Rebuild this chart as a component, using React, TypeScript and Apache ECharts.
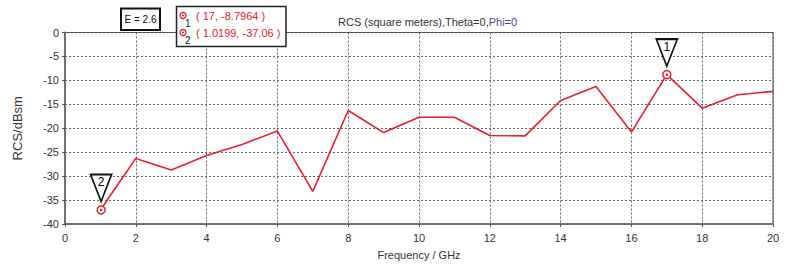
import React, { useEffect, useRef } from "react";
import * as echarts from "echarts";

const freqGHz = [1, 2, 3, 4, 5, 6, 7, 8, 9, 10, 11, 12, 13, 14, 15, 16, 17, 18, 19, 20];
const rcsDbsm = [-37.06, -26.3, -28.7, -25.7, -23.4, -20.6, -33.2, -16.3, -20.9, -17.7, -17.7, -21.5, -21.6, -14.2, -11.3, -20.8, -8.7964, -15.8, -13.0, -12.3];
const markerIds = ["1", "2"];
const markerX = [17, 1.0199];
const markerY = [-8.7964, -37.06];
const titleMain = "RCS (square meters),Theta=0,";
const titlePhi = "Phi=0";
const xAxisName = "Frequency / GHz";
const yAxisName = "RCS/dBsm";
const boxLabel = "E = 2.6";

const FONT = "Liberation Sans";
const RED = "#e8202a";

export default function App() {
  const ref = useRef<HTMLDivElement>(null);
  useEffect(() => {
    if (!ref.current) return;
    const chart = echarts.init(ref.current, undefined, { renderer: "svg" });
    const lineData = freqGHz.map((f, i) => [f, rcsDbsm[i]]);
    const markData = markerX.map((x, i) => ({ value: [x, markerY[i]], name: markerIds[i] }));
    const markerGraphics: any[] = [];
    markerIds.forEach((id, i) => {
      const cy = 15.5 + i * 17;
      markerGraphics.push(
        { type: "circle", shape: { cx: 183, cy, r: 3 }, style: { fill: "#fff", stroke: RED, lineWidth: 1.3 }, z: 101 },
        { type: "circle", shape: { cx: 183, cy, r: 0.9 }, style: { fill: RED }, z: 101 },
        { type: "text", x: 185, y: cy + 3, style: { text: id, fill: "#222", font: `10px "${FONT}"` }, z: 101 },
        {
          type: "text",
          x: 196,
          y: cy,
          style: {
            text: `( ${markerX[i]}, ${markerY[i]} )`,
            fill: RED,
            font: `11px "${FONT}"`,
            verticalAlign: "middle",
          },
          z: 101,
        }
      );
    });
    chart.setOption({
      animation: false,
      backgroundColor: "#ffffff",
      textStyle: { fontFamily: FONT },
      title: {
        text: `{a|${titleMain}}{b|${titlePhi}}`,
        left: 333,
        top: 11,
        textStyle: {
          fontWeight: "normal",
          rich: {
            a: { fontSize: 11, color: "#333", fontFamily: FONT, fontWeight: "normal" },
            b: { fontSize: 11, color: "#4b4b9b", fontFamily: FONT, fontWeight: "normal" },
          },
        },
      },
      grid: {
        left: 65,
        right: 19,
        top: 32.5,
        bottom: 44,
        show: true,
        borderColor: "#444",
        borderWidth: 1,
        backgroundColor: "transparent",
      },
      xAxis: {
        type: "value",
        min: 0,
        max: 20,
        interval: 2,
        name: xAxisName,
        nameLocation: "middle",
        nameGap: 25,
        nameTextStyle: { fontSize: 11, color: "#333", fontFamily: FONT },
        axisLine: { show: true, onZero: false, lineStyle: { color: "#707070", width: 2 } },
        axisTick: { show: true, length: 3, lineStyle: { color: "#555" } },
        axisLabel: { fontSize: 11, color: "#333", margin: 8, fontFamily: FONT },
        splitLine: { show: true, lineStyle: { color: "#666", type: [2, 2], width: 1 } },
      },
      yAxis: {
        type: "value",
        min: -40,
        max: 0,
        interval: 5,
        name: yAxisName,
        nameLocation: "middle",
        nameGap: 41,
        nameTextStyle: { fontSize: 13, color: "#333", fontFamily: FONT },
        axisLine: { show: true, onZero: false, lineStyle: { color: "#707070", width: 2 } },
        axisTick: { show: true, length: 3, lineStyle: { color: "#555" } },
        axisLabel: { fontSize: 11, color: "#333", margin: 6, fontFamily: FONT },
        splitLine: { show: true, lineStyle: { color: "#666", type: [2, 2], width: 1 } },
      },
      series: [
        {
          type: "line",
          data: lineData,
          showSymbol: false,
          symbol: "none",
          lineStyle: { color: RED, width: 1.6 },
          z: 3,
        },
        {
          type: "scatter",
          data: markData,
          symbol: "path://M0,0L22,0L11,29Z",
          symbolSize: [21, 27],
          symbolOffset: [0, -22],
          symbolKeepAspect: false,
          itemStyle: { color: "#ffffff", borderColor: "#111", borderWidth: 1.8, opacity: 1 },
          emphasis: { disabled: true },
          label: {
            show: true,
            position: ["50%", 3],
            align: "center",
            formatter: (p: any) => p.name,
            fontSize: 12,
            color: "#000000",
            textBorderWidth: 0,
            fontFamily: FONT,
          },
          z: 5,
        },
        {
          type: "scatter",
          data: markData,
          symbol: "circle",
          symbolSize: 8,
          itemStyle: { color: "#fff", borderColor: RED, borderWidth: 1.5, opacity: 1 },
          emphasis: { disabled: true },
          z: 6,
        },
        {
          type: "scatter",
          data: markData,
          symbol: "circle",
          symbolSize: 2.5,
          itemStyle: { color: RED, opacity: 1 },
          emphasis: { disabled: true },
          z: 7,
        },
      ],
      graphic: [
        {
          type: "rect",
          shape: { x: 121, y: 8.5, width: 39, height: 21.5 },
          style: { fill: "#fff", stroke: "#111", lineWidth: 2 },
          z: 100,
        },
        {
          type: "text",
          x: 140.5,
          y: 19.5,
          style: {
            text: boxLabel,
            fill: "#111",
            font: `10px "${FONT}"`,
            align: "center",
            verticalAlign: "middle",
          },
          z: 101,
        },
        {
          type: "rect",
          shape: { x: 176.5, y: 6.5, width: 109.5, height: 40 },
          style: { fill: "#fff", stroke: "#222", lineWidth: 1.5 },
          z: 100,
        },
        ...markerGraphics,
      ],
    });
    return () => chart.dispose();
  }, []);
  return (
    <div
      ref={ref}
      style={{ position: "fixed", left: 0, top: 0, width: 792, height: 268, background: "#fff" }}
    />
  );
}
